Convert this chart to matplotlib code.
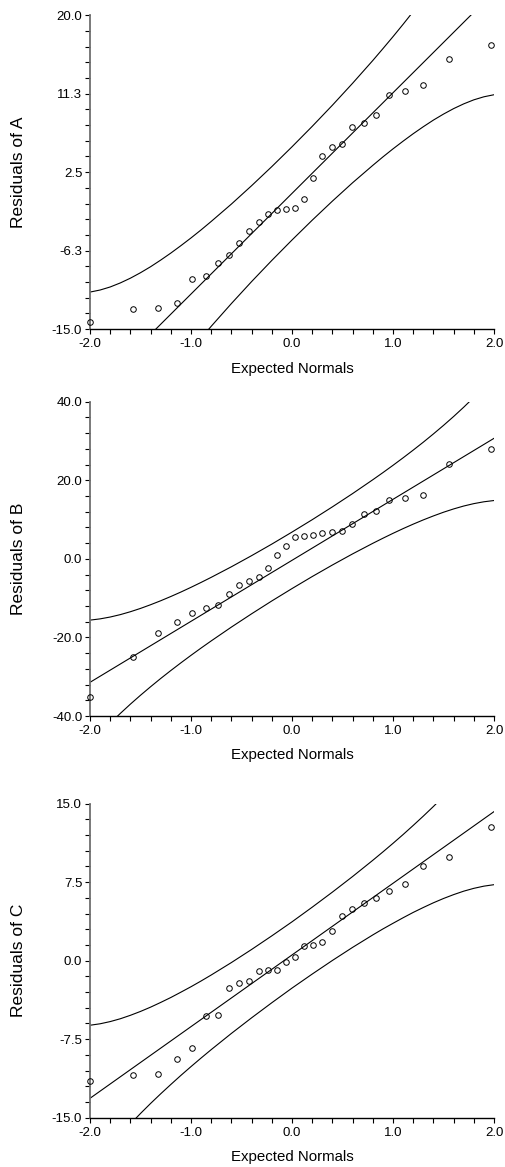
import matplotlib
matplotlib.use("Agg")
import matplotlib.pyplot as plt
import numpy as np
from matplotlib.ticker import FixedLocator, FixedFormatter, NullFormatter

plt.rcParams['font.family'] = ['Liberation Sans', 'DejaVu Sans']

# ---------------- data ----------------
expected_normals = [-2.000, -1.578, -1.327, -1.142, -0.987, -0.855, -0.736, -0.624,
                    -0.521, -0.422, -0.327, -0.238, -0.149, -0.059, 0.030, 0.119,
                    0.211, 0.300, 0.396, 0.495, 0.597, 0.710, 0.828, 0.960,
                    1.116, 1.300, 1.551, 1.970]

resid_A = [-14.18, -12.80, -12.61, -12.13, -9.45, -9.12, -7.67, -6.70,
           -5.36, -4.06, -3.02, -2.13, -1.68, -1.65, -1.53, -0.55,
           1.89, 4.27, 5.31, 5.61, 7.58, 8.02, 8.88, 11.15,
           11.52, 12.23, 15.17, 16.65]

resid_B = [-35.08, -25.07, -18.79, -15.99, -13.87, -12.52, -11.84, -9.04,
           -6.75, -5.73, -4.63, -2.33, 0.89, 3.35, 5.64, 5.90,
           5.98, 6.57, 6.83, 7.00, 8.95, 11.49, 12.09, 14.89,
           15.48, 16.16, 24.14, 27.87]

resid_C = [-11.46, -10.89, -10.83, -9.36, -8.37, -5.25, -5.19, -2.64,
           -2.13, -1.97, -0.95, -0.89, -0.86, -0.10, 0.35, 1.43,
           1.50, 1.82, 2.80, 4.24, 4.90, 5.54, 6.02, 6.69,
           7.29, 9.08, 9.90, 12.74]

# reference lines (values at x = -2 and x = 2)
ref_x = [-2.0, 2.0]
ref_A = [-22.33, 22.59]
ref_B = [-31.43, 30.67]
ref_C = [-13.15, 14.24]

# confidence band curves
band_x = [-2.0, -1.9, -1.8, -1.7, -1.6, -1.5, -1.4, -1.3, -1.2, -1.1, -1.0, -0.9,
          -0.8, -0.6, -0.4, -0.2, 0.0, 0.2, 0.4, 0.6, 0.8,
          0.9, 1.0, 1.1, 1.2, 1.3, 1.4, 1.5, 1.6, 1.7, 1.8, 1.9, 2.0]

upper_A = [-10.88, -10.65, -10.31, -9.86, -9.33, -8.72, -8.05, -7.31, -6.53, -5.70, -4.84, -3.94,
           -3.00, -1.06, 0.99, 3.12, 5.33, 7.61, 9.97, 12.42, 14.96,
           16.28, 17.62, 19.00, 20.42, 21.88, 23.40, 24.97, 26.61, 28.32, 30.12, 32.02, 34.04]
lower_A = [-33.78, -31.76, -29.86, -28.06, -26.35, -24.71, -23.14, -21.62, -20.16, -18.74, -17.36, -16.02,
           -14.70, -12.16, -9.71, -7.35, -5.07, -2.86, -0.73, 1.32, 3.26,
           4.20, 5.10, 5.96, 6.79, 7.57, 8.31, 8.98, 9.59, 10.12, 10.57, 10.91, 11.14]

upper_B = [-15.60, -15.28, -14.81, -14.20, -13.46, -12.62, -11.68, -10.67, -9.59, -8.45, -7.25, -6.00,
           -4.71, -2.02, 0.81, 3.75, 6.81, 9.96, 13.23, 16.61, 20.13,
           21.94, 23.80, 25.71, 27.67, 29.69, 31.79, 33.96, 36.22, 38.59, 41.08, 43.71, 46.50]
lower_B = [-47.26, -44.47, -41.84, -39.35, -36.98, -34.72, -32.55, -30.45, -28.43, -26.47, -24.56, -22.70,
           -20.89, -17.37, -13.99, -10.72, -7.57, -4.51, -1.57, 1.26, 3.95,
           5.24, 6.49, 7.69, 8.83, 9.91, 10.92, 11.86, 12.70, 13.44, 14.05, 14.52, 14.84]

upper_C = [-6.17, -6.03, -5.82, -5.55, -5.22, -4.85, -4.44, -3.99, -3.52, -3.01, -2.49, -1.94,
           -1.37, -0.18, 1.07, 2.37, 3.71, 5.11, 6.55, 8.04, 9.59,
           10.39, 11.21, 12.05, 12.92, 13.81, 14.73, 15.69, 16.69, 17.73, 18.83, 19.99, 21.22]
lower_C = [-20.13, -18.90, -17.74, -16.64, -15.60, -14.60, -13.64, -12.72, -11.83, -10.96, -10.12, -9.30,
           -8.50, -6.95, -5.46, -4.02, -2.62, -1.28, 0.02, 1.27, 2.46,
           3.03, 3.57, 4.10, 4.61, 5.08, 5.53, 5.94, 6.31, 6.64, 6.91, 7.12, 7.26]

x_ticks = [-2.0, -1.0, 0.0, 1.0, 2.0]
x_tick_labels = ['-2.0', '-1.0', '0.0', '1.0', '2.0']

yticks_A = [-15.0, -6.25, 2.5, 11.25, 20.0]
ylabels_A = ['-15.0', '-6.3', '2.5', '11.3', '20.0']
yticks_B = [-40.0, -20.0, 0.0, 20.0, 40.0]
ylabels_B = ['-40.0', '-20.0', '0.0', '20.0', '40.0']
yticks_C = [-15.0, -7.5, 0.0, 7.5, 15.0]
ylabels_C = ['-15.0', '-7.5', '0.0', '7.5', '15.0']

panel_names = ['Residuals of A', 'Residuals of B', 'Residuals of C']

# ---------------- figure ----------------
W, H = 505, 1167
fig = plt.figure(figsize=(W / 100, H / 100), dpi=100)

left_px, right_px = 90, 494
panels_px = [(15.33, 329.0), (401.67, 716.0), (803.67, 1117.67)]

panels = [
    (resid_A, ref_A, upper_A, lower_A, yticks_A, ylabels_A, 1.75),
    (resid_B, ref_B, upper_B, lower_B, yticks_B, ylabels_B, 4.0),
    (resid_C, ref_C, upper_C, lower_C, yticks_C, ylabels_C, 1.5),
]

for i, ((res, ref, up, lo, yt, yl, ystep), (top, bot)) in enumerate(zip(panels, panels_px)):
    rect = [left_px / W, 1 - bot / H, (right_px - left_px) / W, (bot - top) / H]
    ax = fig.add_axes(rect)
    ax.plot(band_x, up, color='black', lw=0.8)
    ax.plot(band_x, lo, color='black', lw=0.8)
    ax.plot(ref_x, ref, color='black', lw=0.8)
    ax.plot(expected_normals, res, linestyle='none', marker='o', ms=4.0,
            mfc='none', mec='black', mew=0.7, clip_on=False, zorder=5)

    ax.set_xlim(-2.0, 2.0)
    ax.set_ylim(yt[0], yt[-1])

    ax.xaxis.set_major_locator(FixedLocator(x_ticks))
    ax.xaxis.set_major_formatter(FixedFormatter(x_tick_labels))
    ax.xaxis.set_minor_locator(FixedLocator(np.arange(-2.0, 2.001, 0.2)))
    ax.xaxis.set_minor_formatter(NullFormatter())

    ax.yaxis.set_major_locator(FixedLocator(yt))
    ax.yaxis.set_major_formatter(FixedFormatter(yl))
    ax.yaxis.set_minor_locator(FixedLocator(np.arange(yt[0], yt[-1] + 1e-6, ystep)))
    ax.yaxis.set_minor_formatter(NullFormatter())

    for s in ['top', 'right']:
        ax.spines[s].set_visible(False)
    ax.spines['left'].set_color('#6e6e6e')
    ax.spines['left'].set_linewidth(1.3)
    ax.spines['bottom'].set_color('black')
    ax.spines['bottom'].set_linewidth(1.0)

    ax.tick_params(which='both', direction='out', length=3.6, width=0.8,
                   color='black', labelsize=9.5, pad=2)
    ax.tick_params(axis='x', which='both', pad=3)

    ax.set_xlabel('Expected Normals', fontsize=10.8, va='center')
    ax.xaxis.set_label_coords(0.5, -39.5 / (bot - top))
    ax.set_ylabel(panel_names[i], fontsize=12.5, va='center')
    ax.yaxis.set_label_coords(-71.0 / (right_px - left_px), 0.5)

fig.savefig('out.png', dpi=100)
